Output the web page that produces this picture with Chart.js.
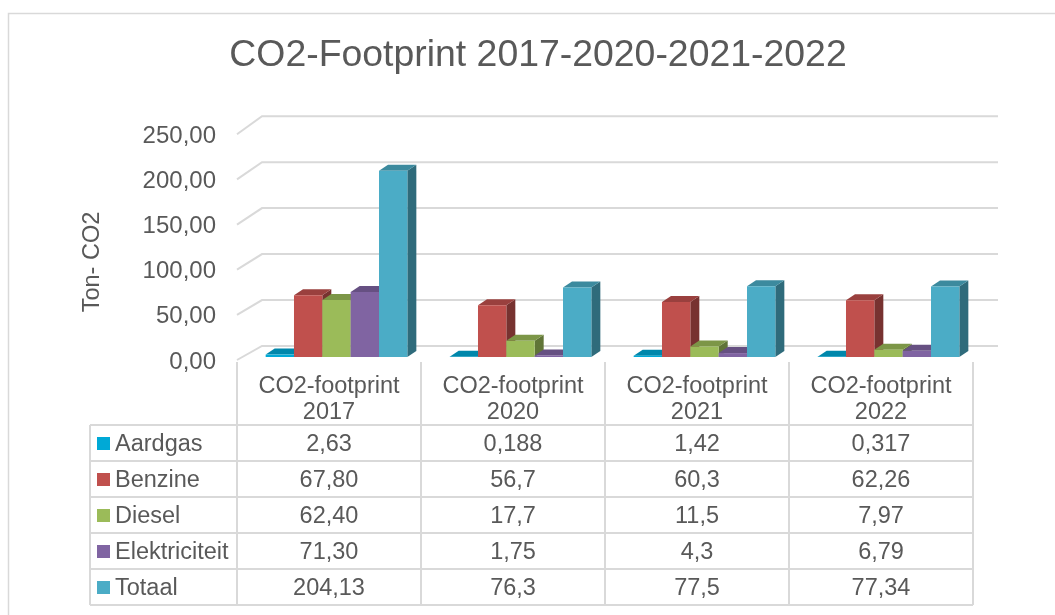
<!DOCTYPE html>
<html>
<head>
<meta charset="utf-8">
<title>CO2-Footprint</title>
<script src="https://cdn.jsdelivr.net/npm/chart.js@4.4.1/dist/chart.umd.min.js"></script>
<style>
  html, body { margin: 0; padding: 0; background: #fff; }
  #myChart { display: block; }
</style>
</head>
<body>
<canvas id="myChart" width="1055" height="615"></canvas>
<script>
// data
const categories = [["CO2-footprint", "2017"], ["CO2-footprint", "2020"], ["CO2-footprint", "2021"], ["CO2-footprint", "2022"]];
const seriesNames = ["Aardgas", "Benzine", "Diesel", "Elektriciteit", "Totaal"];
const aardgas = [2.63, 0.188, 1.42, 0.317];
const benzine = [67.80, 56.7, 60.3, 62.26];
const diesel = [62.40, 17.7, 11.5, 7.97];
const elektriciteit = [71.30, 1.75, 4.3, 6.79];
const totaal = [204.13, 76.3, 77.5, 77.34];
// table text as shown in the sheet
const tableText = [
  ["2,63", "0,188", "1,42", "0,317"],
  ["67,80", "56,7", "60,3", "62,26"],
  ["62,40", "17,7", "11,5", "7,97"],
  ["71,30", "1,75", "4,3", "6,79"],
  ["204,13", "76,3", "77,5", "77,34"]
];
const yTicks = [0, 50, 100, 150, 200, 250];
const colors = ["#00A9D6", "#C0504D", "#9BBB59", "#8064A2", "#4BACC6"];

const FONT = "'Liberation Sans', Arial, sans-serif";
const TEXT = "#595959";
const GRID = "#d9d9d9";
const DX = 9, DY = 6;         // bar depth
const SHIFT_X = 7.5;          // bars sit in the middle of the floor depth

function shade(hex, f) {
  const n = parseInt(hex.slice(1), 16);
  const r = Math.round(((n >> 16) & 255) * f);
  const g = Math.round(((n >> 8) & 255) * f);
  const b = Math.round((n & 255) * f);
  return "rgb(" + r + "," + g + "," + b + ")";
}

// front / back position of a gridline, from the scale pixel
function frontY(p, bottom) { return p + 3 + (bottom - p) * 0.01; }
function backY(p, bottom) { return p - 11 - (bottom - p) * 0.008; }

const excel3d = {
  id: "excel3d",
  beforeDraw(chart) {
    const ctx = chart.ctx;
    const area = chart.chartArea;
    const y = chart.scales.y;
    const x = chart.scales.x;
    ctx.save();
    ctx.fillStyle = "#fff";
    ctx.fillRect(0, 0, chart.width, chart.height);

    // outer border
    ctx.strokeStyle = GRID;
    ctx.lineWidth = 1.5;
    ctx.strokeRect(8.5, 13.5, 3000, 3000);

    // title
    ctx.fillStyle = TEXT;
    ctx.font = "37.4px " + FONT;
    ctx.textAlign = "center";
    ctx.textBaseline = "middle";
    ctx.fillText("CO2-Footprint 2017-2020-2021-2022", 538, 56);

    // y title
    ctx.save();
    ctx.translate(93, 262);
    ctx.rotate(-Math.PI / 2);
    ctx.font = "23.5px " + FONT;
    ctx.fillText("Ton- CO2", 0, 0);
    ctx.restore();

    // side wall + back wall gridlines
    ctx.strokeStyle = GRID;
    ctx.lineWidth = 2;
    const wallX0 = area.left, wallX1 = area.left + 25, wallRight = area.right + 25;
    y.ticks.forEach(t => {
      const p = y.getPixelForValue(t.value);
      const fy = frontY(p, area.bottom), by = backY(p, area.bottom);
      ctx.beginPath();
      ctx.moveTo(wallX0, fy);
      ctx.lineTo(wallX1, by);
      ctx.lineTo(wallRight, by);
      ctx.stroke();
      // tick label
      ctx.fillStyle = TEXT;
      ctx.font = "24px " + FONT;
      ctx.textAlign = "right";
      ctx.textBaseline = "alphabetic";
      ctx.fillText(t.value.toFixed(2).replace(".", ","), 216, fy + 8.5);
    });

    // data table
    const catW = x.getPixelForValue(1) - x.getPixelForValue(0);
    const colLeft = i => x.getPixelForValue(i) - catW / 2;
    const headTop = area.bottom + 5;
    const rowTop = area.bottom + 68;
    const rowH = 36;
    const labelLeft = area.left - 147;
    const tableBottom = rowTop + rowH * seriesNames.length;
    ctx.strokeStyle = GRID;
    ctx.lineWidth = 2;
    ctx.beginPath();
    for (let i = 0; i <= categories.length; i++) {
      const cx = i < categories.length ? colLeft(i) : colLeft(i - 1) + catW;
      ctx.moveTo(cx, headTop);
      ctx.lineTo(cx, tableBottom);
    }
    ctx.moveTo(labelLeft, rowTop);
    ctx.lineTo(labelLeft, tableBottom);
    for (let r = 0; r <= seriesNames.length; r++) {
      ctx.moveTo(labelLeft, rowTop + r * rowH);
      ctx.lineTo(colLeft(categories.length - 1) + catW, rowTop + r * rowH);
    }
    ctx.stroke();

    ctx.fillStyle = TEXT;
    ctx.font = "23.5px " + FONT;
    ctx.textAlign = "center";
    ctx.textBaseline = "alphabetic";
    categories.forEach((c, i) => {
      const cx = x.getPixelForValue(i);
      ctx.fillText(c[0], cx, headTop + 31);
      ctx.fillText(c[1], cx, headTop + 57);
    });
    seriesNames.forEach((name, r) => {
      const top = rowTop + r * rowH;
      ctx.fillStyle = colors[r];
      ctx.fillRect(labelLeft + 7, top + 12, 13, 13);
      ctx.fillStyle = TEXT;
      ctx.textAlign = "left";
      ctx.fillText(name, labelLeft + 25, top + 26);
      ctx.textAlign = "center";
      tableText[r].forEach((txt, i) => {
        ctx.fillText(txt, x.getPixelForValue(i), top + 26);
      });
    });
    ctx.restore();
  },
  beforeDatasetsDraw(chart) {
    const ctx = chart.ctx;
    const metas = chart.data.datasets.map((d, i) => chart.getDatasetMeta(i));
    ctx.save();
    ctx.translate(SHIFT_X, 0);
    for (let j = 0; j < categories.length; j++) {
      metas.forEach((meta, i) => {
        const bar = meta.data[j];
        const c = colors[i];
        const l = bar.x - bar.width / 2, r = bar.x + bar.width / 2;
        const top = bar.y, base = bar.base;
        // side
        ctx.fillStyle = shade(c, 0.62);
        ctx.beginPath();
        ctx.moveTo(r, top);
        ctx.lineTo(r + DX, top - DY);
        ctx.lineTo(r + DX, base - DY);
        ctx.lineTo(r, base);
        ctx.closePath();
        ctx.fill();
        // top
        ctx.fillStyle = shade(c, 0.8);
        ctx.beginPath();
        ctx.moveTo(l, top);
        ctx.lineTo(l + DX, top - DY);
        ctx.lineTo(r + DX, top - DY);
        ctx.lineTo(r, top);
        ctx.closePath();
        ctx.fill();
        // front face, drawn by the bar element itself
        bar.draw(ctx);
      });
    }
    ctx.restore();
    return false;
  }
};

const ctx = document.getElementById("myChart").getContext("2d");
const myChart = new Chart(ctx, {
  type: "bar",
  data: {
    labels: categories,
    datasets: [
      { label: seriesNames[0], data: aardgas, backgroundColor: colors[0] },
      { label: seriesNames[1], data: benzine, backgroundColor: colors[1] },
      { label: seriesNames[2], data: diesel, backgroundColor: colors[2] },
      { label: seriesNames[3], data: elektriciteit, backgroundColor: colors[3] },
      { label: seriesNames[4], data: totaal, backgroundColor: colors[4] }
    ]
  },
  options: {
    responsive: false,
    animation: false,
    layout: { padding: { left: 237, right: 82, top: 129, bottom: 258 } },
    datasets: { bar: { categoryPercentage: 0.77, barPercentage: 1.0, borderWidth: 0 } },
    plugins: { legend: { display: false }, tooltip: { enabled: false }, title: { display: false } },
    scales: {
      x: { display: false, offset: true },
      y: {
        display: false,
        min: 0,
        max: 250,
        afterBuildTicks: axis => { axis.ticks = yTicks.map(v => ({ value: v })); }
      }
    }
  },
  plugins: [excel3d]
});
</script>
</body>
</html>
